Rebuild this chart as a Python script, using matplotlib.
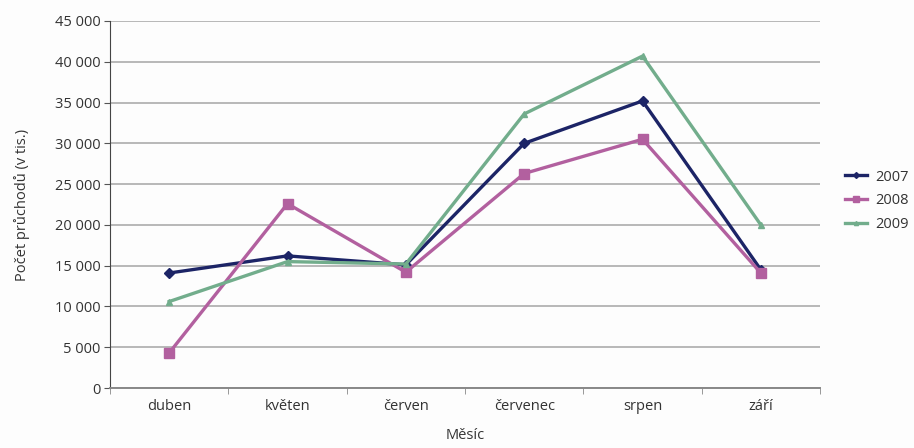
import matplotlib
matplotlib.use("Agg")
import matplotlib.pyplot as plt
import numpy as np

months = ["duben", "květen", "červen", "červenec", "srpen", "září"]
years = ["2007", "2008", "2009"]
v2007 = [14100, 16200, 15100, 30000, 35200, 14500]
v2008 = [4300, 22600, 14200, 26300, 30500, 14100]
v2009 = [10600, 15500, 15200, 33600, 40700, 20000]
yticks = [0, 5000, 10000, 15000, 20000, 25000, 30000, 35000, 40000, 45000]

colors = ["#1c2466", "#b2609f", "#72ad8c"]
markers = ["D", "s", "^"]
msizes = [5, 7, 5]

plt.rcParams['font.family'] = ['Open Sans', 'DejaVu Sans']
FS = 10.5

fig = plt.figure(figsize=(9.14, 4.48), dpi=100)
fig.patch.set_facecolor("#fdfdfd")
ax = fig.add_axes([110/914, 1-388/448, 710/914, 367/448])
ax.set_facecolor("#fdfdfd")

x = np.arange(len(months))
for vals, c, m, ms, lab in zip([v2007, v2008, v2009], colors, markers, msizes, years):
    ax.plot(x, vals, color=c, lw=2.4, marker=m, ms=ms, label=lab)

ax.set_xlim(-0.5, len(months) - 0.5)
ax.set_ylim(0, 45000)
ax.set_yticks(yticks)
ax.set_yticklabels([f"{t:,}".replace(",", " ") for t in yticks], fontsize=FS, color="#333333")
ax.set_xticks(x)
ax.set_xticklabels(months, fontsize=FS, color="#333333")
ax.set_xticks(np.arange(-0.5, len(months), 1.0), minor=True)
ax.tick_params(axis='x', which='major', length=0, pad=8)
ax.tick_params(axis='x', which='minor', length=4, color="#888888")
ax.tick_params(axis='y', length=4, color="#555555", pad=3)
ax.yaxis.grid(True, color="#b8b8b8", lw=1.4)
ax.set_axisbelow(True)
for s in ["top", "right"]:
    ax.spines[s].set_visible(False)
ax.spines["left"].set_color("#444444")
ax.spines["bottom"].set_color("#888888")
ax.spines["bottom"].set_linewidth(1.4)

ax.set_ylabel("Počet průchodů (v tis.)", fontsize=FS, color="#333333", labelpad=18)
ax.set_xlabel("Měsíc", fontsize=FS, color="#333333", labelpad=10)

leg = ax.legend(loc="center left", bbox_to_anchor=(722/710, 0.51),
                frameon=False, fontsize=FS, handlelength=1.5, handletextpad=0.6,
                labelspacing=0.6, markerscale=0.6)
for t in leg.get_texts():
    t.set_color("#333333")

fig.savefig("out.png", dpi=100, facecolor=fig.get_facecolor())
